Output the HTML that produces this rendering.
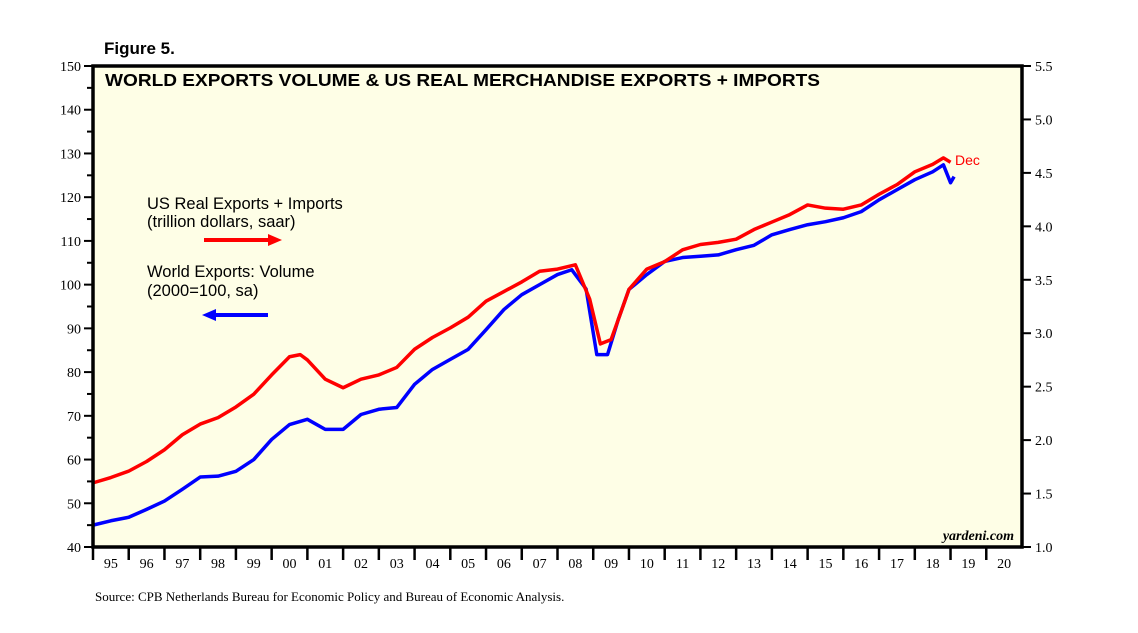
<!DOCTYPE html>
<html><head><meta charset="utf-8"><style>
body{margin:0;background:#fff;}
svg text{font-family:"Liberation Sans",sans-serif;}
</style></head><body>
<svg width="1138" height="628" xmlns="http://www.w3.org/2000/svg">
<text x="104" y="54" font-size="17" font-weight="bold">Figure 5.</text>
<rect x="93" y="66" width="929" height="481" fill="#fefee6"/>
<g id="axes"></g>
<g id="series"></g>
<rect x="93" y="66" width="929" height="481" fill="none" stroke="#000" stroke-width="3.5"/>
<text x="105" y="86" font-size="17.5" font-weight="bold" textLength="715" lengthAdjust="spacingAndGlyphs">WORLD EXPORTS VOLUME &amp; US REAL MERCHANDISE EXPORTS + IMPORTS</text>
<g>
<text x="147" y="209" font-size="16.5">US Real Exports + Imports</text>
<text x="147" y="227" font-size="16.5">(trillion dollars, saar)</text>
<line x1="204" y1="240" x2="272" y2="240" stroke="#f00" stroke-width="4"/>
<polygon points="282,240 268,234 268,246" fill="#f00"/>
</g>
<g>
<text x="147" y="277" font-size="16.5">World Exports: Volume</text>
<text x="147" y="296" font-size="16.5">(2000=100, sa)</text>
<line x1="212" y1="315" x2="268" y2="315" stroke="#00f" stroke-width="4"/>
<polygon points="202,315 216,309 216,321" fill="#00f"/>
</g>
<text x="955" y="165" font-size="14" fill="#f00">Dec</text>
<text x="1014" y="540" font-size="14" font-style="italic" font-weight="bold" text-anchor="end" style="font-family:'Liberation Serif',serif">yardeni.com</text>
<text x="95" y="601" font-size="13" style="font-family:'Liberation Serif',serif">Source: CPB Netherlands Bureau for Economic Policy and Bureau of Economic Analysis.</text>
</svg>
<script>
const leftTicks=[40,50,60,70,80,90,100,110,120,130,140,150];
const rightTicks=["1.0","1.5","2.0","2.5","3.0","3.5","4.0","4.5","5.0","5.5"];
const yearLabels=["95","96","97","98","99","00","01","02","03","04","05","06","07","08","09","10","11","12","13","14","15","16","17","18","19","20"];
const worldDates=[1995,1995.5,1996,1996.5,1997,1997.5,1998,1998.5,1999,1999.5,2000,2000.5,2001,2001.5,2002,2002.5,2003,2003.5,2004,2004.5,2005,2005.5,2006,2006.5,2007,2007.5,2008,2008.4,2008.8,2009.1,2009.4,2009.7,2010,2010.5,2011,2011.5,2012,2012.5,2013,2013.5,2014,2014.5,2015,2015.5,2016,2016.5,2017,2017.5,2018,2018.5,2018.8,2019,2019.1];
const worldValues=[45,46,46.8,48.6,50.5,53.2,56,56.2,57.3,60,64.6,68,69.2,66.9,66.9,70.3,71.5,71.9,77.2,80.6,82.9,85.2,89.7,94.3,97.7,100,102.3,103.4,99,84,84,92,98.9,102.3,105.3,106.2,106.5,106.8,108,109,111.4,112.6,113.7,114.4,115.3,116.7,119.4,121.7,124,125.8,127.4,123.3,124.7];
const usDates=[1995,1995.5,1996,1996.5,1997,1997.5,1998,1998.5,1999,1999.5,2000,2000.5,2000.8,2001,2001.5,2002,2002.5,2003,2003.5,2004,2004.5,2005,2005.5,2006,2006.5,2007,2007.5,2008,2008.5,2008.9,2009.2,2009.5,2009.8,2010,2010.5,2011,2011.5,2012,2012.5,2013,2013.5,2014,2014.5,2015,2015.5,2016,2016.5,2017,2017.5,2018,2018.5,2018.8,2019];
const usValues=[1.6,1.65,1.71,1.8,1.91,2.05,2.15,2.21,2.31,2.43,2.61,2.78,2.8,2.75,2.57,2.49,2.57,2.61,2.68,2.85,2.96,3.05,3.15,3.3,3.39,3.48,3.58,3.6,3.64,3.32,2.9,2.94,3.22,3.41,3.6,3.67,3.78,3.83,3.85,3.88,3.97,4.04,4.11,4.2,4.17,4.16,4.2,4.3,4.39,4.51,4.58,4.64,4.6];
const X0=93,X1=1022,Y0=547,Y1=66;
const xs=d=>X0+(d-1995)*(X1-X0)/26;
const yl=v=>Y0-(v-40)*(Y0-Y1)/110;
const yr=v=>Y0-(v-1)*(Y0-Y1)/4.5;
const NS="http://www.w3.org/2000/svg";
const axes=document.getElementById('axes'),ser=document.getElementById('series');
function mk(t,a,p){const e=document.createElementNS(NS,t);for(const k in a)e.setAttribute(k,a[k]);p.appendChild(e);return e;}
leftTicks.forEach(v=>{const y=yl(v);
 const l=mk('line',{x1:84,x2:93,y1:y,y2:y,stroke:'#000','stroke-width':2},axes);
 
 
 if(v<150){const m=mk('line',{x1:87,x2:93,y1:yl(v+5),y2:yl(v+5),stroke:'#000','stroke-width':2},axes);
 
 }
 const t=mk('text',{x:81,y:y+5,'text-anchor':'end','font-size':14,style:"font-family:'Liberation Serif',serif"},axes);t.textContent=v;
 
 });
rightTicks.forEach(s=>{const y=yr(parseFloat(s));
 const l=mk('line',{x1:1022,x2:1031,y1:y,y2:y,stroke:'#000','stroke-width':2},axes);
 
 
 const t=mk('text',{x:1035,y:y+5,'font-size':14,style:"font-family:'Liberation Serif',serif"},axes);t.textContent=s;
 
 });
yearLabels.forEach((s,i)=>{const x=xs(1995+i);
 const l=mk('line',{x1:x,x2:x,y1:547,y2:560,stroke:'#000','stroke-width':2.5},axes);
 
 
 const t=mk('text',{x:xs(1995.5+i),y:568,'text-anchor':'middle','font-size':14,style:"font-family:'Liberation Serif',serif"},axes);t.textContent=s;
 
 });
const pb=mk('polyline',{points:worldDates.map((d,i)=>xs(d)+','+yl(worldValues[i])).join(' '),fill:'none',stroke:'#00f','stroke-width':3.5,'stroke-linejoin':'round'},ser);


const pr=mk('polyline',{points:usDates.map((d,i)=>xs(d)+','+yr(usValues[i])).join(' '),fill:'none',stroke:'#f00','stroke-width':3.5,'stroke-linejoin':'round'},ser);


</script>
</body></html>
